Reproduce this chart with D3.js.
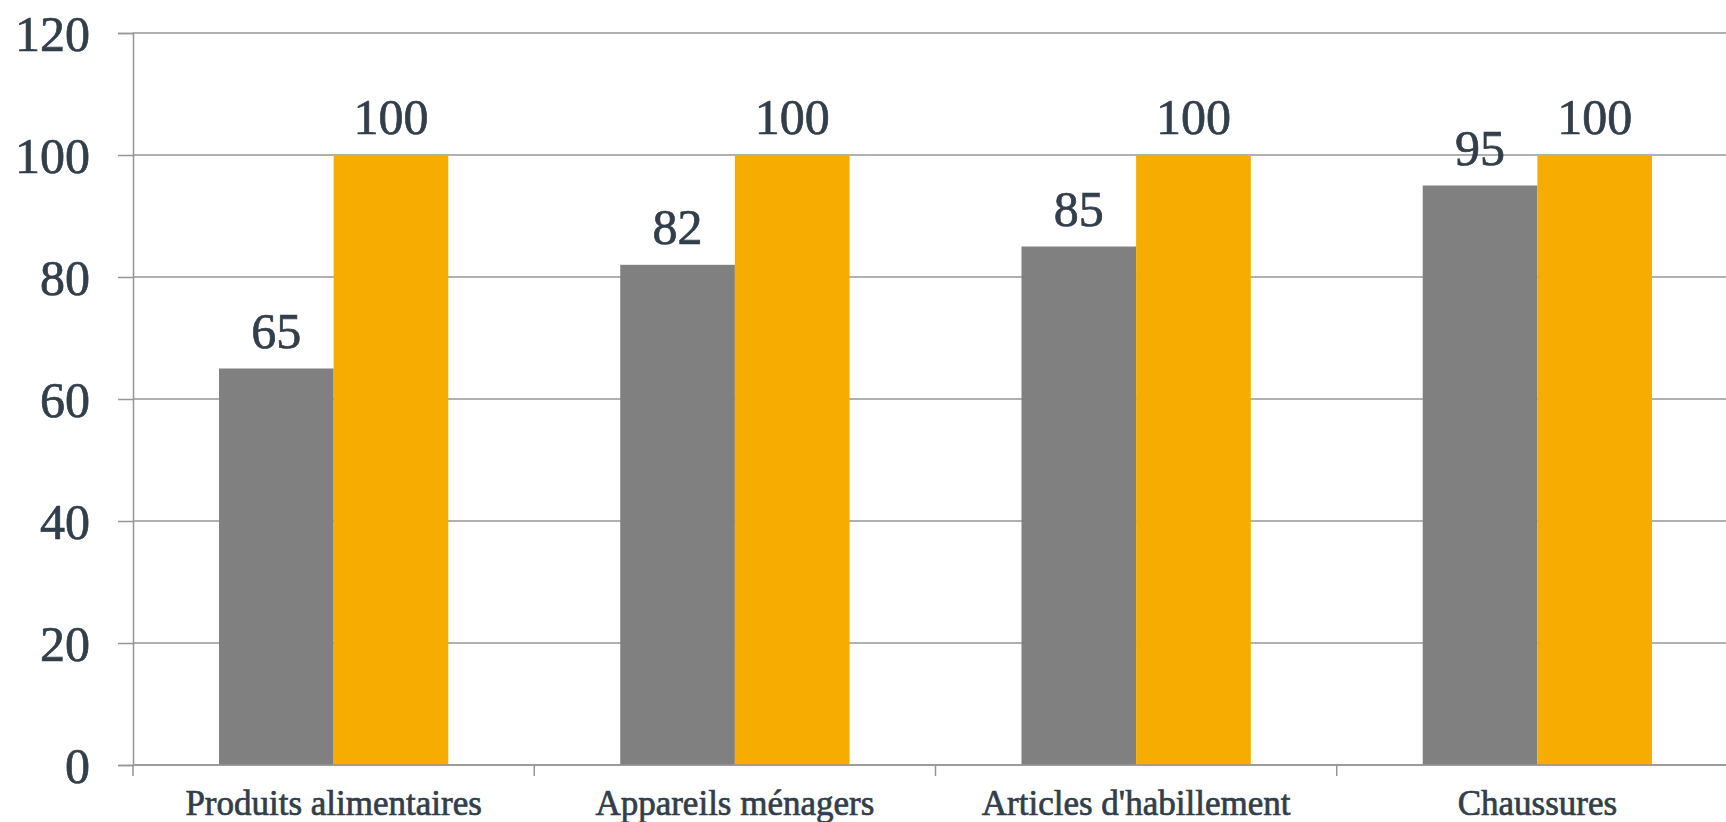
<!DOCTYPE html>
<html>
<head>
<meta charset="utf-8">
<script src="https://cdn.jsdelivr.net/npm/d3@7"></script>
<style>
  body { margin: 0; background: #fff; }
  svg { display: block; }
  text { font-family: "Liberation Serif", "DejaVu Serif", serif; fill: #323e4a; stroke: #323e4a; stroke-width: 0.7px; }
</style>
</head>
<body>
<script>
var categories = ["Produits alimentaires", "Appareils ménagers", "Articles d'habillement", "Chaussures"];
var series = ["Série 1", "Série 2"];
var serie1 = [65, 82, 85, 95];
var serie2 = [100, 100, 100, 100];
var yTicks = [0, 20, 40, 60, 80, 100, 120];
var colors = ["#808080", "#f6ac00"];

var width = 1726,
    height = 822;

var margin = { top: 33, left: 133, bottom: 57 };
var plotRight = 1738; // plot area runs past the picture edge

var svg = d3.select("body").append("svg")
    .attr("width", width)
    .attr("height", height);

var y = d3.scaleLinear()
    .domain([0, 120])
    .range([height - margin.bottom, margin.top]);

var x = d3.scaleBand()
    .domain(categories)
    .range([margin.left, plotRight]);

var x1 = d3.scaleBand()
    .domain(series)
    .range([0, x.bandwidth()])
    .paddingInner(0)
    .paddingOuter(0.75);

// gridlines
svg.append("g")
    .selectAll("line")
    .data(yTicks)
  .enter().append("line")
    .attr("x1", margin.left)
    .attr("x2", plotRight)
    .attr("y1", function(d) { return y(d); })
    .attr("y2", function(d) { return y(d); })
    .attr("stroke", "#969696")
    .attr("stroke-width", 1.5);

// left axis
var yAxis = svg.append("g")
    .attr("transform", "translate(" + margin.left + ",0)")
    .call(d3.axisLeft(y).tickValues(yTicks).tickSize(15).tickPadding(28));
yAxis.select(".domain").attr("stroke", "#969696").attr("stroke-width", 1.5);
yAxis.selectAll(".tick line").attr("stroke", "#969696").attr("stroke-width", 1.5);
yAxis.selectAll("text")
    .attr("fill", "#323e4a")
    .style("font-size", "50px")
    .attr("dy", "0.34em");

// bars
var rows = categories.map(function(c, i) {
    return { cat: c, values: [serie1[i], serie2[i]] };
});

var groups = svg.selectAll(".grp")
    .data(rows)
  .enter().append("g")
    .attr("class", "grp")
    .attr("transform", function(d) { return "translate(" + x(d.cat) + ",0)"; });

groups.selectAll("rect")
    .data(function(d) { return d.values.map(function(v, j) { return { s: series[j], v: v, j: j }; }); })
  .enter().append("rect")
    .attr("x", function(d) { return x1(d.s); })
    .attr("width", x1.bandwidth())
    .attr("y", function(d) { return y(d.v); })
    .attr("height", function(d) { return y(0) - y(d.v); })
    .attr("fill", function(d) { return colors[d.j]; });

groups.selectAll(".val")
    .data(function(d) { return d.values.map(function(v, j) { return { s: series[j], v: v }; }); })
  .enter().append("text")
    .attr("class", "val")
    .attr("x", function(d) { return x1(d.s) + x1.bandwidth() / 2; })
    .attr("y", function(d) { return y(d.v) - 21; })
    .attr("text-anchor", "middle")
    .style("font-size", "50px")
    .text(function(d) { return d.v; });

// bottom axis line + boundary ticks
svg.append("line")
    .attr("x1", margin.left)
    .attr("x2", plotRight)
    .attr("y1", y(0))
    .attr("y2", y(0))
    .attr("stroke", "#969696")
    .attr("stroke-width", 1.5);

var bounds = categories.map(function(c) { return x(c); }).concat([plotRight]);
svg.append("g")
    .selectAll("line")
    .data(bounds)
  .enter().append("line")
    .attr("x1", function(d) { return d; })
    .attr("x2", function(d) { return d; })
    .attr("y1", y(0))
    .attr("y2", y(0) + 11)
    .attr("stroke", "#969696")
    .attr("stroke-width", 1.5);

svg.append("g")
    .selectAll("text")
    .data(categories)
  .enter().append("text")
    .attr("x", function(d) { return x(d) + x.bandwidth() / 2; })
    .attr("y", 815)
    .attr("text-anchor", "middle")
    .style("font-size", "35px")
    .text(function(d) { return d; });
</script>
</body>
</html>
